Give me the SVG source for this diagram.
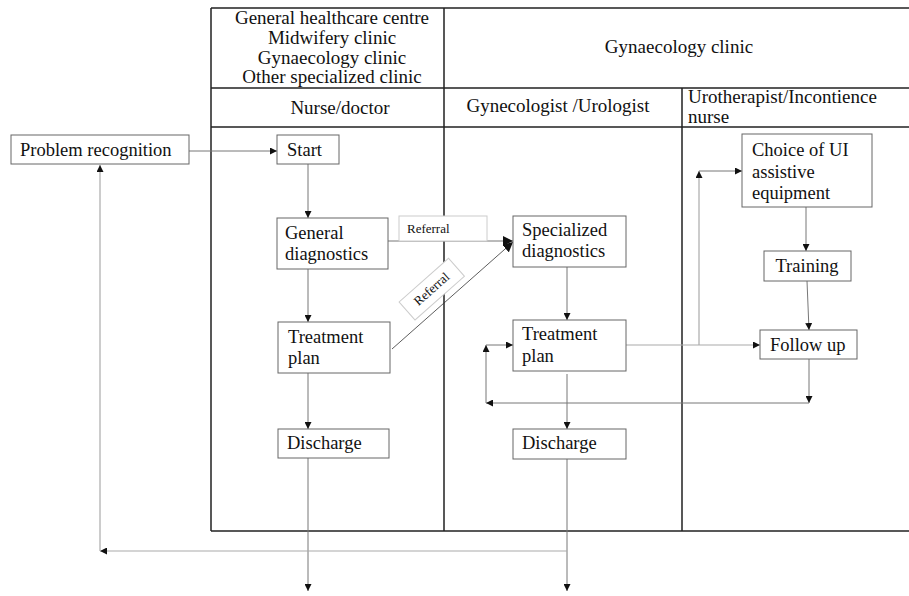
<svg xmlns="http://www.w3.org/2000/svg" width="909" height="596" viewBox="0 0 909 596">
  <style>
    text { font-family: "Liberation Serif", "Times New Roman", serif; fill: #111; }
    .t { font-size: 18.5px; }
    .hd { font-size: 19px; }
    .lbl { font-size: 13px; }
    .grid { stroke: #222; stroke-width: 1.5; fill: none; }
    .box { fill: #fff; stroke: #666; stroke-width: 1; }
    .tag { fill: #fff; stroke: #ccc; stroke-width: 1; }
    .c { fill: none; stroke: #777; stroke-width: 1; }
    .cl { fill: none; stroke: #aaa; stroke-width: 1.2; }
    .cd { fill: none; stroke: #333; stroke-width: 0.8; }
  </style>
  <defs>
    <marker id="arr" viewBox="0 0 10 10" refX="10" refY="5" markerWidth="7" markerHeight="7" markerUnits="userSpaceOnUse" orient="auto">
      <path d="M0,0 L10,5 L0,10 z" fill="#111"/>
    </marker>
    <marker id="arrBig" viewBox="0 0 10 10" refX="10" refY="5" markerWidth="10" markerHeight="10" markerUnits="userSpaceOnUse" orient="auto">
      <path d="M0,0 L10,5 L0,10 z" fill="#111"/>
    </marker>
  </defs>

  <rect width="909" height="596" fill="#fff"/>

  <!-- swimlane table -->
  <g id="lanes">
    <path class="grid" d="M211,8 H909 M211,88 H909 M211,127 H909 M211,531 H909 M211,8 V531 M444,8 V531 M682,88 V531"/>
    <text class="hd" x="332" y="24" text-anchor="middle">General healthcare centre</text>
    <text class="hd" x="332" y="44" text-anchor="middle">Midwifery clinic</text>
    <text class="hd" x="332" y="64" text-anchor="middle">Gynaecology clinic</text>
    <text class="hd" x="332" y="83" text-anchor="middle">Other specialized clinic</text>
    <text class="hd" x="679" y="53" text-anchor="middle">Gynaecology clinic</text>
    <text class="hd" x="340" y="114" text-anchor="middle">Nurse/doctor</text>
    <text class="hd" x="558" y="112" text-anchor="middle">Gynecologist /Urologist</text>
    <text class="hd" x="688" y="103">Urotherapist/Incontience</text>
    <text class="hd" x="688" y="123">nurse</text>
  </g>

  <!-- connectors -->
  <g id="connectors">
    <path class="c" d="M189,151 H277" marker-end="url(#arr)"/>
    <path class="c" d="M308,164 V218" marker-end="url(#arr)"/>
    <path class="c" d="M388,241 H513" marker-end="url(#arrBig)"/>
    <path class="cd" d="M392,349 L513,242" marker-end="url(#arrBig)"/>
    <path class="c" d="M308,269 V322" marker-end="url(#arr)"/>
    <path class="c" d="M308,373 V429" marker-end="url(#arr)"/>
    <path class="c" d="M308,458 V591" marker-end="url(#arr)"/>
    <path class="c" d="M567,267 V320" marker-end="url(#arr)"/>
    <path class="c" d="M567,374 V429" marker-end="url(#arr)"/>
    <path class="c" d="M567,459 V591" marker-end="url(#arr)"/>
    <path class="cl" d="M567,551 H100" marker-end="url(#arr)"/>
    <path class="cl" d="M100,551 V165" marker-end="url(#arr)"/>
    <path class="cl" d="M626,345 H760" marker-end="url(#arr)"/>
    <path class="cl" d="M699,345 V171" marker-end="url(#arr)"/>
    <path class="c" d="M699,171 H742" marker-end="url(#arr)"/>
    <path class="c" d="M806,207 V251" marker-end="url(#arr)"/>
    <path class="c" d="M807,281 L809,330" marker-end="url(#arr)"/>
    <path class="c" d="M809,359 V403" marker-end="url(#arr)"/>
    <path class="c" d="M809,403 H486" marker-end="url(#arr)"/>
    <path class="c" d="M486,403 V345" marker-end="url(#arr)"/>
    <path class="c" d="M486,345 H513" marker-end="url(#arr)"/>
  </g>

  <!-- referral labels -->
  <g id="referral-1">
    <rect class="tag" x="399" y="216" width="88" height="25"/>
    <text class="lbl" x="407" y="233">Referral</text>
  </g>
  <g id="referral-2" transform="translate(415,320) rotate(-41.5)">
    <rect class="tag" x="0" y="-24" width="66" height="24"/>
    <text class="lbl" x="33" y="-8" text-anchor="middle">Referral</text>
  </g>

  <!-- nodes -->
  <g id="problem-recognition">
    <rect class="box" x="11" y="135" width="178" height="29"/>
    <text class="t" x="20" y="156">Problem recognition</text>
  </g>
  <g id="start">
    <rect class="box" x="277" y="135" width="62" height="29"/>
    <text class="t" x="287" y="156">Start</text>
  </g>
  <g id="general-diagnostics">
    <rect class="box" x="277" y="218" width="111" height="51"/>
    <text class="t" x="285" y="239">General</text>
    <text class="t" x="285" y="260">diagnostics</text>
  </g>
  <g id="treatment-plan-1">
    <rect class="box" x="278" y="322" width="112" height="51"/>
    <text class="t" x="288" y="343">Treatment</text>
    <text class="t" x="288" y="364">plan</text>
  </g>
  <g id="discharge-1">
    <rect class="box" x="278" y="429" width="111" height="29"/>
    <text class="t" x="287" y="449">Discharge</text>
  </g>
  <g id="specialized-diagnostics">
    <rect class="box" x="513" y="216" width="113" height="51"/>
    <text class="t" x="522" y="236">Specialized</text>
    <text class="t" x="522" y="257">diagnostics</text>
  </g>
  <g id="treatment-plan-2">
    <rect class="box" x="513" y="320" width="113" height="51"/>
    <text class="t" x="522" y="340">Treatment</text>
    <text class="t" x="522" y="362">plan</text>
  </g>
  <g id="discharge-2">
    <rect class="box" x="513" y="429" width="113" height="30"/>
    <text class="t" x="522" y="449">Discharge</text>
  </g>
  <g id="choice-of-ui">
    <rect class="box" x="742" y="134" width="130" height="73"/>
    <text class="t" x="752" y="156">Choice of UI</text>
    <text class="t" x="752" y="178">assistive</text>
    <text class="t" x="752" y="199">equipment</text>
  </g>
  <g id="training">
    <rect class="box" x="764" y="251" width="87" height="30"/>
    <text class="t" x="807" y="272" text-anchor="middle">Training</text>
  </g>
  <g id="follow-up">
    <rect class="box" x="760" y="330" width="97" height="29"/>
    <text class="t" x="770" y="351">Follow up</text>
  </g>
</svg>
